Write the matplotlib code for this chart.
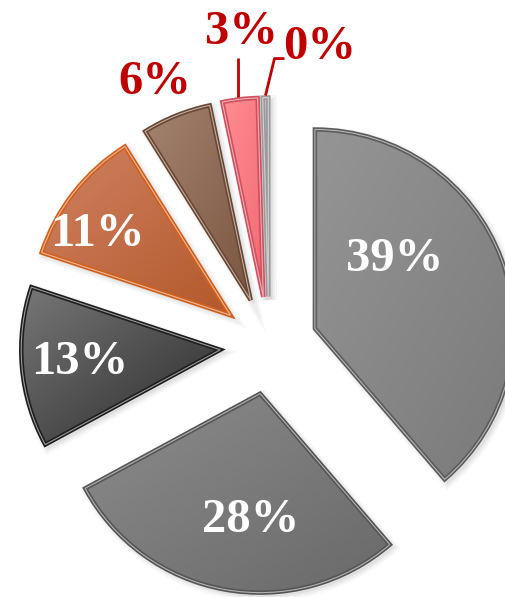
import numpy as np
import matplotlib.pyplot as plt
from matplotlib.patches import Wedge
from matplotlib.colors import LinearSegmentedColormap

# slice shares in percent, clockwise from 12 o'clock
shares = [38.7, 28.4, 13.0, 11.0, 5.6, 2.85, 0.45]

# gradient (light, dark) and outline colour per slice
fill_light = ['#959595', '#8c8c8c', '#777777', '#d08262', '#a4836f', '#ff8d93', '#c4c4c4']
fill_dark = ['#7a7a7a', '#696969', '#2a2a2a', '#b3582b', '#7b5641', '#f26a73', '#a9a9a9']
edge_cols = ['#5c5c5c', '#555555', '#1e1e1e', '#d2601c', '#6a4733', '#d0505e', '#9a9a9a']
text_cols = ['white', 'white', 'white', 'white', '#c00000', '#c00000', '#c00000']

# label placement: angle offset from slice bisector (deg) and distance (x radius)
lab_dang = [-14.8, -4.2, 0.6, -4.8, -1.3, 1.8, 10.4]
lab_dist = [0.774, 0.872, 0.953, 1.035, 1.452, 1.59, 1.532]

W, H = 505, 597
cx, cy = 269, 251.5
R = 199
expl = 0.246

fig = plt.figure(figsize=(W / 100, H / 100), dpi=100)
ax = fig.add_axes([0, 0, 1, 1])

# pie() takes the explode offset in data units
wedges, _ = ax.pie(shares, startangle=90, counterclock=False, radius=R,
                   center=(cx, cy), explode=[expl * R] * len(shares),
                   colors=fill_dark, wedgeprops=dict(linewidth=0))


def polar(ang, dist):
    # angle measured clockwise from 12 o'clock
    a = np.radians(ang)
    return cx + dist * np.sin(a), cy + dist * np.cos(a)


gx, gy = np.meshgrid(np.linspace(0, 1, 200), np.linspace(0, 1, 200))
grad = (gx + gy) / 2

for i, w in enumerate(wedges):
    # soft drop shadow
    for k, a in enumerate([0.05, 0.04, 0.03]):
        sh = Wedge((w.center[0] + 3, w.center[1] - 3), w.r, w.theta1, w.theta2,
                   fc='none', ec='black', lw=2 + 3 * k, alpha=a, zorder=0.5)
        ax.add_patch(sh)
    w.set_zorder(1)
    x0, y0, x1, y1 = w.get_path().get_extents().extents
    cmap = LinearSegmentedColormap.from_list('s%d' % i, [fill_light[i], fill_dark[i]])
    im = ax.imshow(grad, cmap=cmap, extent=(x0, x1, y0, y1), origin='upper',
                   interpolation='bilinear', zorder=2)
    im.set_clip_path(w)
    # double outline
    ax.add_patch(Wedge(w.center, w.r, w.theta1, w.theta2, fill=False,
                       ec=edge_cols[i], lw=3.2, zorder=3, joinstyle='miter'))
    ax.add_patch(Wedge(w.center, w.r, w.theta1, w.theta2, fill=False,
                       ec='white', lw=0.8, alpha=0.55, zorder=4, joinstyle='miter'))

# labels
cum = np.concatenate([[0], np.cumsum(shares)]) * 3.6
for i, v in enumerate(shares):
    mid = (cum[i] + cum[i + 1]) / 2
    tx, ty = polar(mid + lab_dang[i], lab_dist[i] * R)
    ax.text(tx, ty - 2, f'{v:.0f}%', color=text_cols[i], fontsize=35,
            fontweight='bold', family=['Liberation Serif', 'DejaVu Serif'],
            ha='center', va='center', zorder=6)

# leader lines for the two thinnest slices
for i in (5, 6):
    mid = (cum[i] + cum[i + 1]) / 2
    ox, oy = polar(mid, expl * R)
    ex, ey = ox + (R + 2) * np.sin(np.radians(mid)), oy + (R + 2) * np.cos(np.radians(mid))
    if i == 5:
        xs, ys = [ex - 2, ex - 2], [ey, ey + 39]
    else:
        xs, ys = [ex, ex + 9, ex + 19], [ey, ey + 37, ey + 37]
    ax.plot(xs, ys, color='#c00000', lw=2, zorder=5, solid_capstyle='butt')

ax.set_xlim(0, W)
ax.set_ylim(0, H)
ax.set_aspect('equal')
ax.axis('off')

fig.savefig('out.png', dpi=100, facecolor='white')
